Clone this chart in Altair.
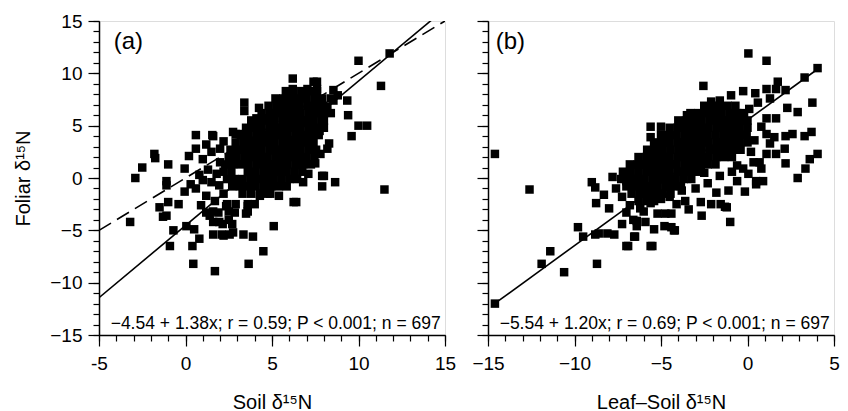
import altair as alt
import pandas as pd

FONT = "Liberation Sans"

# ---------------- panel (a): Soil d15N vs Foliar d15N ----------------
# scattered points (x = soil, y = foliar)
scatter_a = [
    (-2.9, 0.0), (-2.5, 1.0), (-1.8, 2.3), (-1.75, 1.9), (-3.2, -4.2), (-1.0, 1.3),
    (-1.1, -0.3), (-1.1, -0.7), (-1.0, -2.3), (-1.5, -2.8), (-1.3, -3.7), (-1.1, -3.6),
    (-0.7, -5.0), (-0.9, -6.5), (0.4, -6.5), (0.45, -8.2), (1.7, -8.9), (-0.4, -2.5),
    (-0.05, -1.3), (0.05, -4.6), (0.5, -4.9), (0.8, -5.8), (0.6, -1.0), (1.2, -1.7),
    (1.4, -3.6), (1.95, -4.2), (2.2, -5.5), (2.75, -5.2), (1.95, -0.7), (1.8, 0.4),
    (2.35, -2.7), (1.6, -5.4), (2.1, -5.4), (2.55, -5.4), (3.35, -5.4), (3.9, -5.6),
    (4.5, -7.0), (3.65, -8.2), (5.1, -4.6), (6.25, -2.3), (1.6, -4.2), (2.15, -4.4),
    (2.5, -4.0), (2.7, -4.4), (1.2, -3.3), (1.6, -3.2), (1.9, -3.3), (2.5, -3.2),
    (2.85, -3.3), (3.5, -3.4), (2.4, -2.5), (2.9, -2.5), (3.6, -2.5), (4.0, -2.5),
    (0.6, 4.1), (1.55, 4.1), (2.2, 3.5), (0.2, 2.1), (0.6, 2.8), (1.0, 1.8),
    (-0.05, 0.9), (1.6, 4.0), (2.9, 4.2), (6.2, 9.5), (6.2, 8.5), (7.4, 9.2),
    (7.05, 8.5), (3.4, 7.2), (3.4, 6.4), (4.25, 6.7), (4.1, 5.7), (4.65, 5.7),
    (2.75, 4.4), (3.1, 4.2), (6.4, -2.3), (5.4, -1.7), (7.9, 0.2), (7.9, -0.8),
    (6.8, -0.4), (7.1, 0.4), (4.75, -1.5), (4.3, -1.7), (3.6, -2.7), (3.6, -3.2),
    (11.8, 11.9), (10.0, 11.2), (11.3, 8.8), (8.55, 8.4), (8.8, 7.9), (8.4, 7.6),
    (8.55, 7.4), (9.35, 7.4), (9.4, 6.0), (10.0, 5.0), (10.5, 5.0), (9.6, 4.0),
    (8.2, 6.8), (8.0, 5.5), (7.75, 4.5), (7.3, 3.8), (7.8, 2.3), (7.5, 1.4),
    (8.0, 0.2), (8.65, -0.4), (11.5, -1.1), (7.6, 9.2), (7.6, 8.5), (8.3, 3.3),
    (8.2, 2.8), (0.8, 0.3), (1.3, 0.8), (1.5, -0.4), (1.0, -0.2), (2.0, 1.5),
    (1.5, 2.5), (1.2, 3.2), (0.3, -0.6), (2.2, -1.5), (1.7, -2.2), (0.9, -2.6),
    (2.0, 2.8),
]
# dense core, by rows: foliar value -> soil values
core_a = {
    8.3: [5.8, 6.25, 6.7, 7.15, 7.6],
    7.6: [5.2, 5.65, 6.1, 6.55, 7.0, 7.45, 7.9],
    6.9: [4.8, 5.25, 5.7, 6.15, 6.6, 7.05, 7.5, 7.95],
    6.2: [4.4, 4.85, 5.3, 5.75, 6.2, 6.65, 7.1, 7.55, 8.0, 8.4],
    5.5: [3.8, 4.25, 4.7, 5.15, 5.6, 6.05, 6.5, 6.95, 7.4, 7.85],
    4.8: [3.5, 3.95, 4.4, 4.85, 5.3, 5.75, 6.2, 6.65, 7.1, 7.55, 8.0],
    4.1: [3.2, 3.65, 4.1, 4.55, 5.0, 5.45, 5.9, 6.35, 6.8, 7.25, 7.7],
    3.4: [2.9, 3.35, 3.8, 4.25, 4.7, 5.15, 5.6, 6.05, 6.5, 6.95, 7.4],
    2.7: [2.6, 3.05, 3.5, 3.95, 4.4, 4.85, 5.3, 5.75, 6.2, 6.65, 7.1, 7.55],
    2.0: [2.5, 2.95, 3.4, 3.85, 4.3, 4.75, 5.2, 5.65, 6.1, 6.55, 7.0, 7.45],
    1.3: [2.3, 2.75, 3.2, 3.65, 4.1, 4.55, 5.0, 5.45, 5.9, 6.35, 6.8, 7.25],
    0.6: [2.2, 2.65, 3.6, 4.05, 4.5, 4.95, 5.4, 5.85, 6.3, 6.75],
    -0.1: [2.4, 2.85, 3.3, 3.75, 4.2, 4.65, 5.1, 5.55, 6.0, 6.45],
    -0.8: [2.7, 3.15, 3.6, 4.05, 4.5, 4.95, 5.4, 5.85],
    -1.5: [3.3, 3.8, 4.3, 4.9],
}

# ---------------- panel (b): Leaf-Soil d15N vs Foliar d15N ----------------
scatter_b = [
    (-14.6, 2.3), (-12.6, -1.1), (-14.6, -12.0), (-11.9, -8.2), (-11.4, -7.0), (-10.6, -9.0),
    (-9.8, -4.7), (-9.5, -5.6), (-8.8, -5.4), (-8.6, -5.3), (-8.7, -8.2), (-9.0, -0.4),
    (-8.8, -0.9), (-8.75, -2.4), (-7.8, 0.1), (-8.1, -5.3), (-7.7, -5.4), (-7.25, -4.4),
    (-6.9, -6.5), (-6.5, -5.6), (-7.25, -1.8), (-7.0, -3.3), (-6.6, -4.0), (-7.0, -0.3),
    (-6.4, -4.1), (-6.4, -4.6), (-6.0, -3.2), (-5.9, -4.2), (-5.5, -6.5), (-5.4, -4.9),
    (-5.2, -3.4), (-4.75, -3.4), (-4.4, -3.4), (-4.8, -4.6), (-4.4, -4.7), (-4.2, -5.0),
    (-4.1, -2.5), (-3.4, -3.0), (-2.65, -3.6), (-2.7, -2.3), (-2.1, -2.5), (-1.55, -2.5),
    (-1.2, -2.8), (-1.0, -4.2), (-6.55, -5.6), (-7.0, -6.5), (-5.6, -6.5), (-4.25, -5.0),
    (0.05, 11.9), (1.1, 11.2), (-2.55, 8.8), (-2.1, 7.3), (-0.95, 7.9), (-0.25, 8.3),
    (0.45, 8.1), (1.1, 8.5), (1.75, 9.2), (1.65, 8.5), (2.2, 8.4), (3.3, 9.6),
    (4.05, 10.5), (3.75, 7.2), (2.3, 6.7), (2.9, 6.3), (1.65, 5.7), (1.1, 5.7),
    (1.1, 4.2), (1.55, 3.9), (2.2, 4.0), (2.6, 4.2), (3.3, 4.0), (3.7, 4.4),
    (2.15, 2.8), (1.65, 2.3), (1.1, 2.3), (0.7, 1.5), (0.35, 1.5), (4.05, 2.3),
    (3.6, 1.8), (3.35, 0.9), (2.9, 0.0), (2.2, 1.4), (0.9, -0.3), (0.5, -0.3),
    (-0.15, -1.3), (0.2, 2.5), (-3.5, 6.0), (-5.6, 4.9), (-5.0, 4.9), (-5.6, 3.9),
    (-6.1, 1.3), (0.8, 0.9), (0.5, -0.6), (-1.1, -1.2), (-1.3, -2.75), (-0.25, 0.9),
    (0.05, 0.4), (-0.6, 1.2), (0.6, 7.2), (1.3, 7.6), (-1.6, 7.4), (0.1, 6.6),
    (0.8, 4.9), (1.3, 3.3), (0.4, 3.6), (-6.8, -2.6), (-6.2, -2.9), (-5.6, -2.4),
    (-5.0, -2.0), (-4.5, -1.8), (-3.8, -1.2), (-3.0, -1.0), (-2.3, -0.5), (-1.8, -1.4),
    (-3.6, -2.2), (-2.5, 0.5), (-1.6, 0.2), (-0.9, 0.6), (-0.6, -0.3), (-8.0, -2.9),
    (-7.6, -1.0), (-8.3, -1.6),
]
core_b = {
    6.9: [-2.5, -2.05, -1.6, -1.15, -0.7],
    6.2: [-3.3, -2.85, -2.4, -1.95, -1.5, -1.05, -0.6, -0.2],
    5.5: [-4.0, -3.55, -3.1, -2.65, -2.2, -1.75, -1.3, -0.85, -0.4, 0.0],
    4.8: [-4.5, -4.05, -3.6, -3.15, -2.7, -2.25, -1.8, -1.35, -0.9, -0.45, 0.0],
    4.1: [-5.0, -4.55, -4.1, -3.65, -3.2, -2.75, -2.3, -1.85, -1.4, -0.95, -0.5, -0.05],
    3.4: [-5.4, -4.95, -4.5, -4.05, -3.6, -3.15, -2.7, -2.25, -1.8, -1.35, -0.9, -0.45, 0.0],
    2.7: [-5.8, -5.35, -4.9, -4.45, -4.0, -3.55, -3.1, -2.65, -2.2, -1.75, -1.3, -0.85, -0.4],
    2.0: [-6.3, -5.85, -5.4, -4.95, -4.5, -4.05, -3.6, -3.15, -2.7, -2.25, -1.8, -1.35, -0.9],
    1.3: [-6.8, -6.35, -5.9, -5.45, -5.0, -4.55, -4.1, -3.65, -3.2, -2.75, -2.3, -1.85],
    0.6: [-7.2, -6.75, -6.3, -5.85, -5.4, -4.95, -4.5, -4.05, -3.6, -3.15, -2.7],
    -0.1: [-7.3, -6.85, -6.4, -5.95, -5.5, -5.05, -4.6, -4.15, -3.7, -3.25],
    -0.8: [-7.0, -6.55, -6.1, -5.65, -5.2, -4.75, -4.3, -3.85],
    -1.5: [-6.7, -6.25, -5.8, -5.35, -4.9, -4.45],
    -2.2: [-6.3, -5.85, -5.4],
}

# regression lines (intercept, slope, x range drawn)
fit_a = (-4.54, 1.38, [-5.0, 15.0])
fit_b = (5.54, 1.20, [-14.6, 4.1])
one_to_one = [-5.0, 15.0]

ann_a = "\u22124.54 + 1.38x; r = 0.59; P < 0.001; n = 697"
ann_b = "\u22125.54 + 1.20x; r = 0.69; P < 0.001; n = 697"

Y_MAJOR = [-15, -10, -5, 0, 5, 10, 15]
Y_MINOR = list(range(-15, 16))


def points_df(scatter, core):
    rows = [{"x": x, "y": y} for x, y in scatter]
    for y, xs in core.items():
        rows += [{"x": x, "y": y} for x in xs]
    return pd.DataFrame(rows)


def major_axis(values, orient, labels, title, label_expr=None):
    kw = dict(values=values, orient=orient, tickSize=11, tickColor="black", tickWidth=1.2,
              domain=True, domainColor="black", domainWidth=1.5, grid=False,
              labelOverlap=False, labelFlush=False)
    if labels:
        kw.update(labelFont=FONT, labelFontSize=19, labelColor="black",
                  labelPadding=(8 if orient == "bottom" else 6))
        if label_expr:
            kw["labelExpr"] = label_expr
    else:
        kw["labels"] = False
    if title:
        kw.update(title=title, titleFont=FONT, titleFontSize=20, titleFontWeight="normal",
                  titleColor="black", titlePadding=(19 if orient == "bottom" else 16))
    else:
        kw["title"] = None
    return alt.Axis(**kw)


def minor_axis(values, orient):
    return alt.Axis(values=values, orient=orient, tickSize=6, tickColor="black", tickWidth=1.2,
                    domain=False, labels=False, grid=False, title=None)


def panel(pts, fit, xdom, xtitle, first, label, label_x, ann, dashed):
    x_major = list(range(xdom[0], xdom[1] + 1, 5))
    x_minor = list(range(xdom[0], xdom[1] + 1))
    xs = alt.Scale(domain=xdom, nice=False, zero=False)
    ys = alt.Scale(domain=[-15, 15], nice=False, zero=False)
    xexpr = ("datum.value < 0 ? '-' + abs(datum.value) : '' + datum.value") if first else None

    base_pts = alt.Chart(pts).mark_square(size=72, color="black", opacity=1).encode(
        x=alt.X("x:Q", scale=xs, axis=major_axis(x_major, "bottom", True, xtitle, xexpr)),
        y=alt.Y("y:Q", scale=ys,
                axis=major_axis(Y_MAJOR, "left", first, "Foliar \u03b4\u00b9\u2075N" if first else None)),
    )
    a, b, xr = fit
    fit_df = pd.DataFrame({"x": xr, "y": [a + b * v for v in xr]})
    fit_line = alt.Chart(fit_df).mark_line(color="black", strokeWidth=1.6, clip=True).encode(
        x=alt.X("x:Q", scale=xs, axis=minor_axis(x_minor, "bottom")),
        y=alt.Y("y:Q", scale=ys, axis=minor_axis(Y_MINOR, "left")),
    )
    layers = [base_pts, fit_line]
    if dashed:
        d_df = pd.DataFrame({"x": one_to_one, "y": one_to_one})
        layers.append(alt.Chart(d_df).mark_line(color="black", strokeWidth=1.6, clip=True,
                                                strokeDash=[14, 7]).encode(
            x=alt.X("x:Q", axis=None), y=alt.Y("y:Q", axis=None)))
    lab_df = pd.DataFrame({"x": [label_x], "y": [14.1], "t": [label]})
    layers.append(alt.Chart(lab_df).mark_text(align="left", baseline="top", font=FONT,
                                              fontSize=24, color="black").encode(
        x=alt.X("x:Q", axis=None), y=alt.Y("y:Q", axis=None), text="t:N"))
    ann_df = pd.DataFrame({"x": [xdom[1] - 0.25], "y": [-14.45], "t": [ann]})
    layers.append(alt.Chart(ann_df).mark_text(align="right", baseline="alphabetic", font=FONT,
                                              fontSize=17.5, color="black").encode(
        x=alt.X("x:Q", axis=None), y=alt.Y("y:Q", axis=None), text="t:N"))
    return alt.layer(*layers).resolve_axis(x="independent", y="independent").properties(
        width=346, height=314)


pa = panel(points_df(scatter_a, core_a), fit_a, [-5, 15], "Soil \u03b4\u00b9\u2075N", True,
           "(a)", -4.15, ann_a, True)
pb = panel(points_df(scatter_b, core_b), fit_b, [-15, 5], "Leaf\u2013Soil \u03b4\u00b9\u2075N", False,
           "(b)", -14.55, ann_b, False)

chart = alt.hconcat(pa, pb, spacing=43, bounds="flush").properties(
    padding={"left": 5, "top": 3, "right": 0, "bottom": 0}
).configure_view(stroke="black", strokeWidth=1.5).configure(background="white")

chart.save("out.html", embed_options={"renderer": "svg", "actions": False})
